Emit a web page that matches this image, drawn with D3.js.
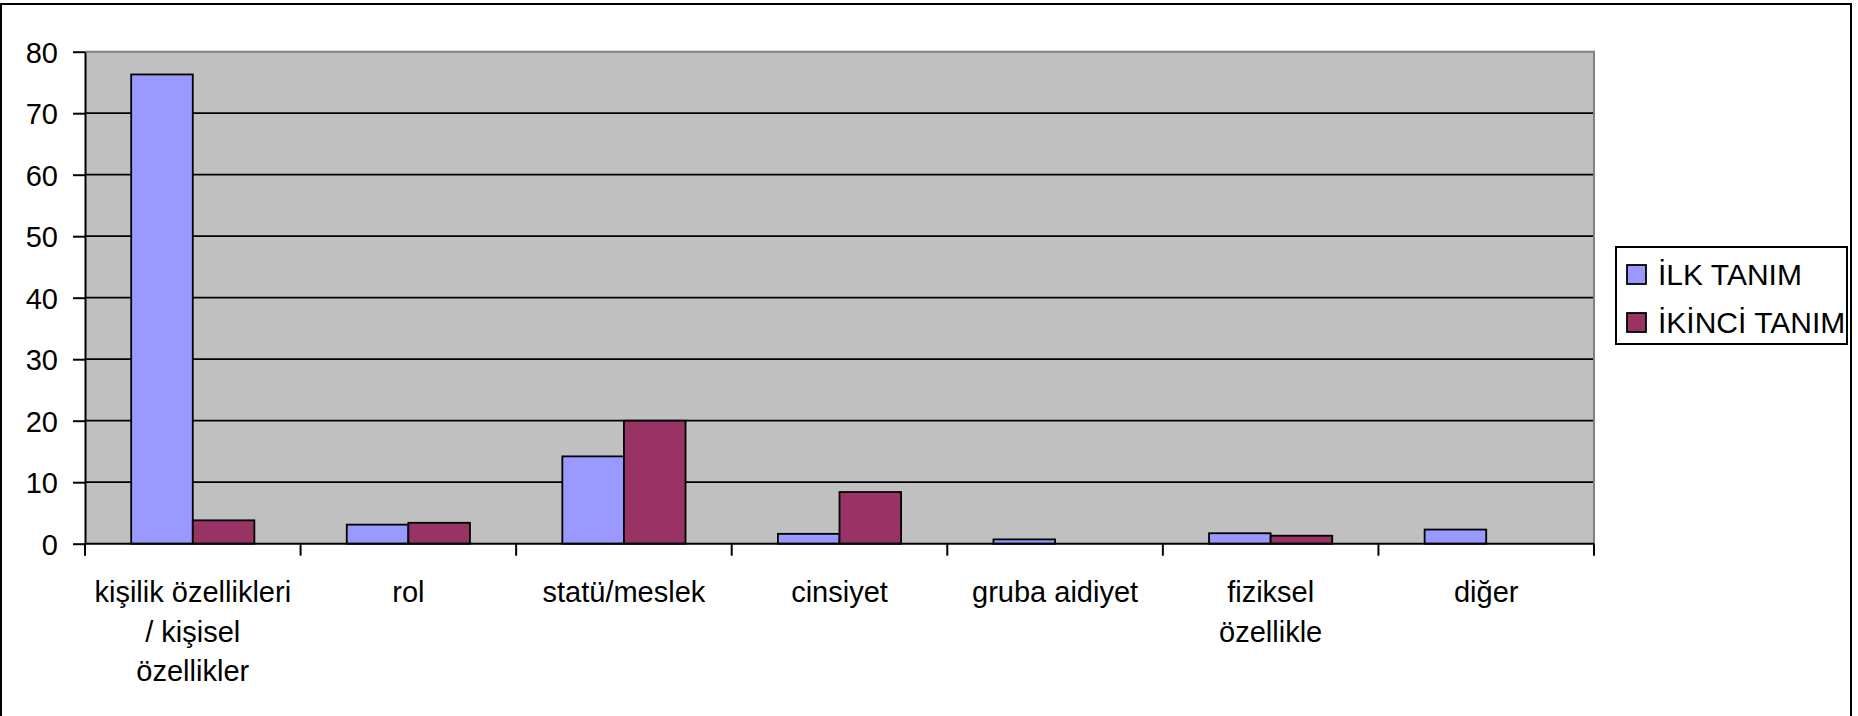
<!DOCTYPE html>
<html>
<head>
<meta charset="utf-8">
<script src="https://cdn.jsdelivr.net/npm/d3@7"></script>
<style>
  html, body { margin: 0; padding: 0; background: #fff; }
  svg { display: block; }
  text { font-family: "Liberation Sans", Arial, sans-serif; fill: #000; }
</style>
</head>
<body>
<svg id="chart" width="1858" height="716"></svg>
<script>
// ---- data ----
const categories = ["kişilik özellikleri / kişisel özellikler", "rol", "statü/meslek", "cinsiyet", "gruba aidiyet", "fiziksel özellikle", "diğer"];
const categoryLabelLines = [["kişilik özellikleri", "/ kişisel", "özellikler"], ["rol"], ["statü/meslek"], ["cinsiyet"], ["gruba aidiyet"], ["fiziksel", "özellikle"], ["diğer"]];
const seriesNames = ["İLK TANIM", "İKİNCİ TANIM"];
const ilkTanim = [76.3, 3.1, 14.2, 1.6, 0.7, 1.7, 2.3];
const ikinciTanim = [3.8, 3.4, 20.0, 8.4, 0, 1.3, 0];
const yTicks = [0, 10, 20, 30, 40, 50, 60, 70, 80];
const seriesColors = ["#9999FF", "#993366"];

(function () {
// ---- layout ----
const svg = d3.select("#chart");
const pLeft = 85, pRight = 1594, pTop = 51.7, pBottom = 543.7;
const fontSize = 29;

// chart border
svg.append("rect").attr("x", 1).attr("y", 4).attr("width", 1850).attr("height", 720)
  .attr("fill", "#fff").attr("stroke", "#000").attr("stroke-width", 2);

const x0 = d3.scaleBand().domain(categories).range([pLeft, pRight]).paddingInner(0).paddingOuter(0);
const x1 = d3.scaleBand().domain(seriesNames).range([0, x0.bandwidth()]).paddingInner(0).paddingOuter(0.75);
const y = d3.scaleLinear().domain([0, 80]).range([pBottom, pTop]);

// plot background
svg.append("rect").attr("x", pLeft).attr("y", pTop).attr("width", pRight - pLeft).attr("height", pBottom - pTop)
  .attr("fill", "#C0C0C0");

// gridlines
svg.append("g").selectAll("line").data(yTicks.filter(d => d > 0 && d < 80)).join("line")
  .attr("x1", pLeft).attr("x2", pRight).attr("y1", d => y(d)).attr("y2", d => y(d))
  .attr("stroke", "#000").attr("stroke-width", 1.8);

// plot border top/right gray
svg.append("path").attr("d", `M${pLeft},${y(80)}H${pRight}V${pBottom}`)
  .attr("fill", "none").attr("stroke", "#808080").attr("stroke-width", 2);

// bars
const seriesData = [ilkTanim, ikinciTanim];
const barG = svg.append("g");
seriesNames.forEach((s, si) => {
  barG.append("g").selectAll("rect").data(categories).join("rect")
    .attr("x", c => x0(c) + x1(s))
    .attr("width", x1.bandwidth())
    .attr("y", (c, i) => y(seriesData[si][i]))
    .attr("height", (c, i) => y(0) - y(seriesData[si][i]))
    .attr("fill", seriesColors[si])
    .attr("stroke", (c, i) => seriesData[si][i] > 0 ? "#000" : "none")
    .attr("stroke-width", 1.8);
});

// y axis
const yAxis = d3.axisLeft(y).tickValues(yTicks).tickSize(12).tickPadding(15).tickSizeOuter(0);
const yg = svg.append("g").attr("transform", `translate(${pLeft},0)`).call(yAxis);
yg.select(".domain").attr("stroke", "#000").attr("stroke-width", 2);
yg.selectAll(".tick line").attr("stroke", "#000").attr("stroke-width", 2);
yg.selectAll(".tick text").attr("font-size", fontSize).attr("font-family", "Liberation Sans, Arial, sans-serif")
  .attr("dy", "0.36em").attr("fill", "#000");

// x axis (ticks at category boundaries)
const boundaries = categories.map(c => x0(c)).concat([pRight]);
svg.append("line").attr("x1", pLeft).attr("x2", pRight).attr("y1", pBottom).attr("y2", pBottom)
  .attr("stroke", "#000").attr("stroke-width", 2);
svg.append("g").selectAll("line").data(boundaries).join("line")
  .attr("x1", d => d).attr("x2", d => d).attr("y1", pBottom).attr("y2", pBottom + 12)
  .attr("stroke", "#000").attr("stroke-width", 2);

// x labels
const xl = svg.append("g");
categories.forEach((c, i) => {
  const t = xl.append("text").attr("text-anchor", "middle").attr("font-size", fontSize)
    .attr("x", x0(c) + x0.bandwidth() / 2).attr("y", 602);
  categoryLabelLines[i].forEach((line, li) => {
    t.append("tspan").attr("x", x0(c) + x0.bandwidth() / 2).attr("y", 602 + li * 39.5).text(line);
  });
});

// legend
const lg = svg.append("g");
lg.append("rect").attr("x", 1616).attr("y", 247).attr("width", 231).attr("height", 97)
  .attr("fill", "#fff").attr("stroke", "#000").attr("stroke-width", 2);
seriesNames.forEach((s, i) => {
  lg.append("rect").attr("x", 1627).attr("y", 265 + i * 48).attr("width", 19).attr("height", 19)
    .attr("fill", seriesColors[i]).attr("stroke", "#000").attr("stroke-width", 1.8);
  lg.append("text").attr("x", 1658).attr("y", 285 + i * 48).attr("font-size", 30).text(s);
});
})();
</script>
</body>
</html>
